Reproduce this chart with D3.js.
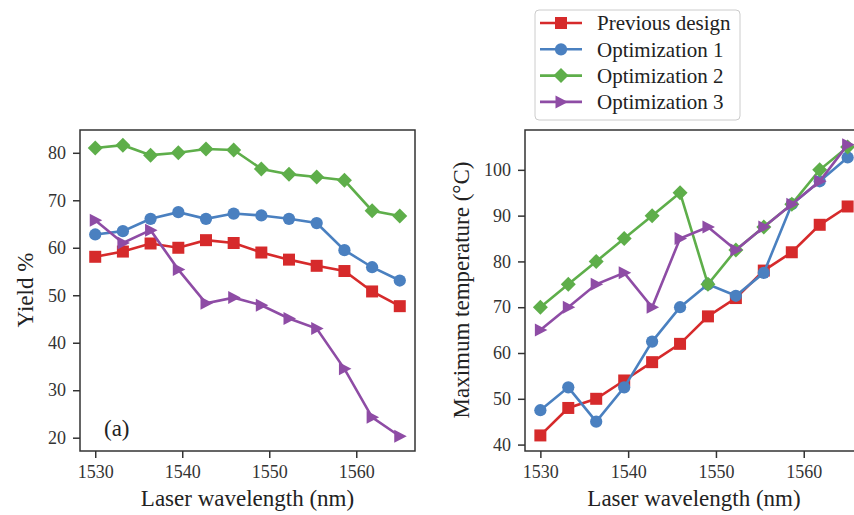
<!DOCTYPE html>
<html>
<head>
<meta charset="utf-8">
<script src="https://cdn.jsdelivr.net/npm/d3@7/dist/d3.min.js"></script>
<style>
  body { margin: 0; background: #fff; }
  svg text { font-family: 'Liberation Serif', 'DejaVu Serif', serif; }
</style>
</head>
<body>
<script>
(function () {
  'use strict'

  var wavelength = [1530, 1533.18, 1536.36, 1539.55, 1542.73, 1545.91, 1549.09, 1552.27, 1555.45, 1558.64, 1561.82, 1565]
  var seriesNames = ['Previous design', 'Optimization 1', 'Optimization 2', 'Optimization 3']

  // yield %, panel (a)
  var yieldPrev = [58.1, 59.2, 60.9, 60.0, 61.6, 61.0, 59.0, 57.5, 56.2, 55.1, 50.8, 47.7]
  var yieldOpt1 = [62.8, 63.5, 66.1, 67.5, 66.1, 67.2, 66.8, 66.1, 65.2, 59.5, 55.9, 53.1]
  var yieldOpt2 = [81.0, 81.6, 79.5, 80.0, 80.8, 80.6, 76.6, 75.5, 74.9, 74.2, 67.8, 66.7]
  var yieldOpt3 = [65.8, 61.0, 63.7, 55.4, 48.3, 49.5, 47.9, 45.1, 43.0, 34.5, 24.3, 20.3]

  // maximum temperature (°C)
  var tempPrev = [42, 48, 50, 54, 58, 62, 68, 72, 78, 82, 88, 92]
  var tempOpt1 = [47.5, 52.5, 45, 52.5, 62.5, 70, 75, 72.5, 77.5, 92.5, 97.5, 102.7]
  var tempOpt2 = [70, 75, 80, 85, 90, 95, 75, 82.5, 87.5, 92.5, 100, 105]
  var tempOpt3 = [65, 70, 75, 77.5, 70, 85, 87.5, 82.5, 87.5, 92.5, 97.5, 105.5]

  var xTicks = [1530, 1540, 1550, 1560]
  var yieldTicks = [20, 30, 40, 50, 60, 70, 80]
  var tempTicks = [40, 50, 60, 70, 80, 90, 100]

  var colors = ['#d62a2b', '#4a80c0', '#5eae4a', '#8e4ca5']
  var markers = ['square', 'circle', 'diamond', 'triangle']
  var serif = "'Liberation Serif', 'DejaVu Serif', serif"

  var W = 854
  var H = 515
  var svg = d3.select('body').append('svg').attr('width', W).attr('height', H)

  function markerPath (type) {
    if (type === 'square') return 'M-6,-6H6V6H-6Z'
    if (type === 'circle') return d3.symbol(d3.symbolCircle, 118)()
    if (type === 'diamond') return 'M0,-7.5L7.5,0L0,7.5L-7.5,0Z'
    return 'M-5.5,-6.5L7,0L-5.5,6.5Z'
  }

  function panel (opts) {
    var x = d3.scaleLinear().domain([1528.25, 1566.75]).range(opts.xr)
    var y = d3.scaleLinear().domain(opts.yd).range([451, 130])
    var g = svg.append('g')

    var ax = g.append('g').attr('transform', 'translate(0,451)')
      .call(d3.axisBottom(x).tickValues(xTicks).tickSize(7).tickPadding(7).tickFormat(d3.format('d')))
    var ay = g.append('g').attr('transform', 'translate(' + opts.xr[0] + ',0)')
      .call(d3.axisLeft(y).tickValues(opts.ticks).tickSize(7).tickPadding(7))
    ;[ax, ay].forEach(function (a) {
      a.attr('font-family', serif).attr('font-size', 18)
      a.select('.domain').remove()
      a.selectAll('.tick line').attr('stroke', '#333').attr('stroke-width', 1.5)
      a.selectAll('.tick text').attr('fill', '#333')
    })

    g.append('rect')
      .attr('x', opts.xr[0]).attr('y', 130)
      .attr('width', opts.xr[1] - opts.xr[0]).attr('height', 321)
      .attr('fill', 'none').attr('stroke', '#333').attr('stroke-width', 1.5)

    var line = d3.line().x(function (d, i) { return x(wavelength[i]) }).y(function (d) { return y(d) })
    opts.series.forEach(function (s, k) {
      g.append('path').datum(s)
        .attr('d', line).attr('fill', 'none')
        .attr('stroke', colors[k]).attr('stroke-width', 2.6)
      g.selectAll('.m' + k).data(s).enter().append('path')
        .attr('class', 'm' + k)
        .attr('d', markerPath(markers[k]))
        .attr('transform', function (d, i) { return 'translate(' + x(wavelength[i]) + ',' + y(d) + ')' })
        .attr('fill', colors[k])
    })

    g.append('text')
      .attr('x', (opts.xr[0] + opts.xr[1]) / 2).attr('y', 506)
      .attr('text-anchor', 'middle').attr('fill', '#222')
      .attr('font-family', serif).attr('font-size', 23).text('Laser wavelength (nm)')
    g.append('text')
      .attr('transform', 'translate(' + opts.ylx + ',290) rotate(-90)')
      .attr('text-anchor', 'middle').attr('dy', '0.35em').attr('fill', '#222')
      .attr('font-family', serif).attr('font-size', 23).text(opts.ylabel)
    return g
  }

  var left = panel({
    xr: [80, 415], yd: [17.2, 84.8], ticks: yieldTicks,
    series: [yieldPrev, yieldOpt1, yieldOpt2, yieldOpt3],
    ylabel: 'Yield %', ylx: 25
  })
  left.append('text').attr('x', 104).attr('y', 436)
    .attr('fill', '#222').attr('font-family', serif).attr('font-size', 23).text('(a)')

  panel({
    xr: [525, 863], yd: [38.6, 108.7], ticks: tempTicks,
    series: [tempPrev, tempOpt1, tempOpt2, tempOpt3],
    ylabel: 'Maximum temperature (°C)', ylx: 461
  })

  // legend
  var lg = svg.append('g')
  lg.append('rect').attr('x', 535).attr('y', 10).attr('width', 205).attr('height', 110)
    .attr('rx', 4).attr('fill', '#fff').attr('stroke', '#ccc').attr('stroke-width', 1)
  seriesNames.forEach(function (name, k) {
    var yy = 23 + k * 26.3
    lg.append('line').attr('x1', 540).attr('x2', 582).attr('y1', yy).attr('y2', yy)
      .attr('stroke', colors[k]).attr('stroke-width', 2.6)
    lg.append('path').attr('d', markerPath(markers[k]))
      .attr('transform', 'translate(561,' + yy + ')').attr('fill', colors[k])
    lg.append('text').attr('x', 597).attr('y', yy).attr('dy', '0.35em')
      .attr('fill', '#222').attr('font-family', serif).attr('font-size', 21).text(name)
  })
}())
</script>
</body>
</html>
